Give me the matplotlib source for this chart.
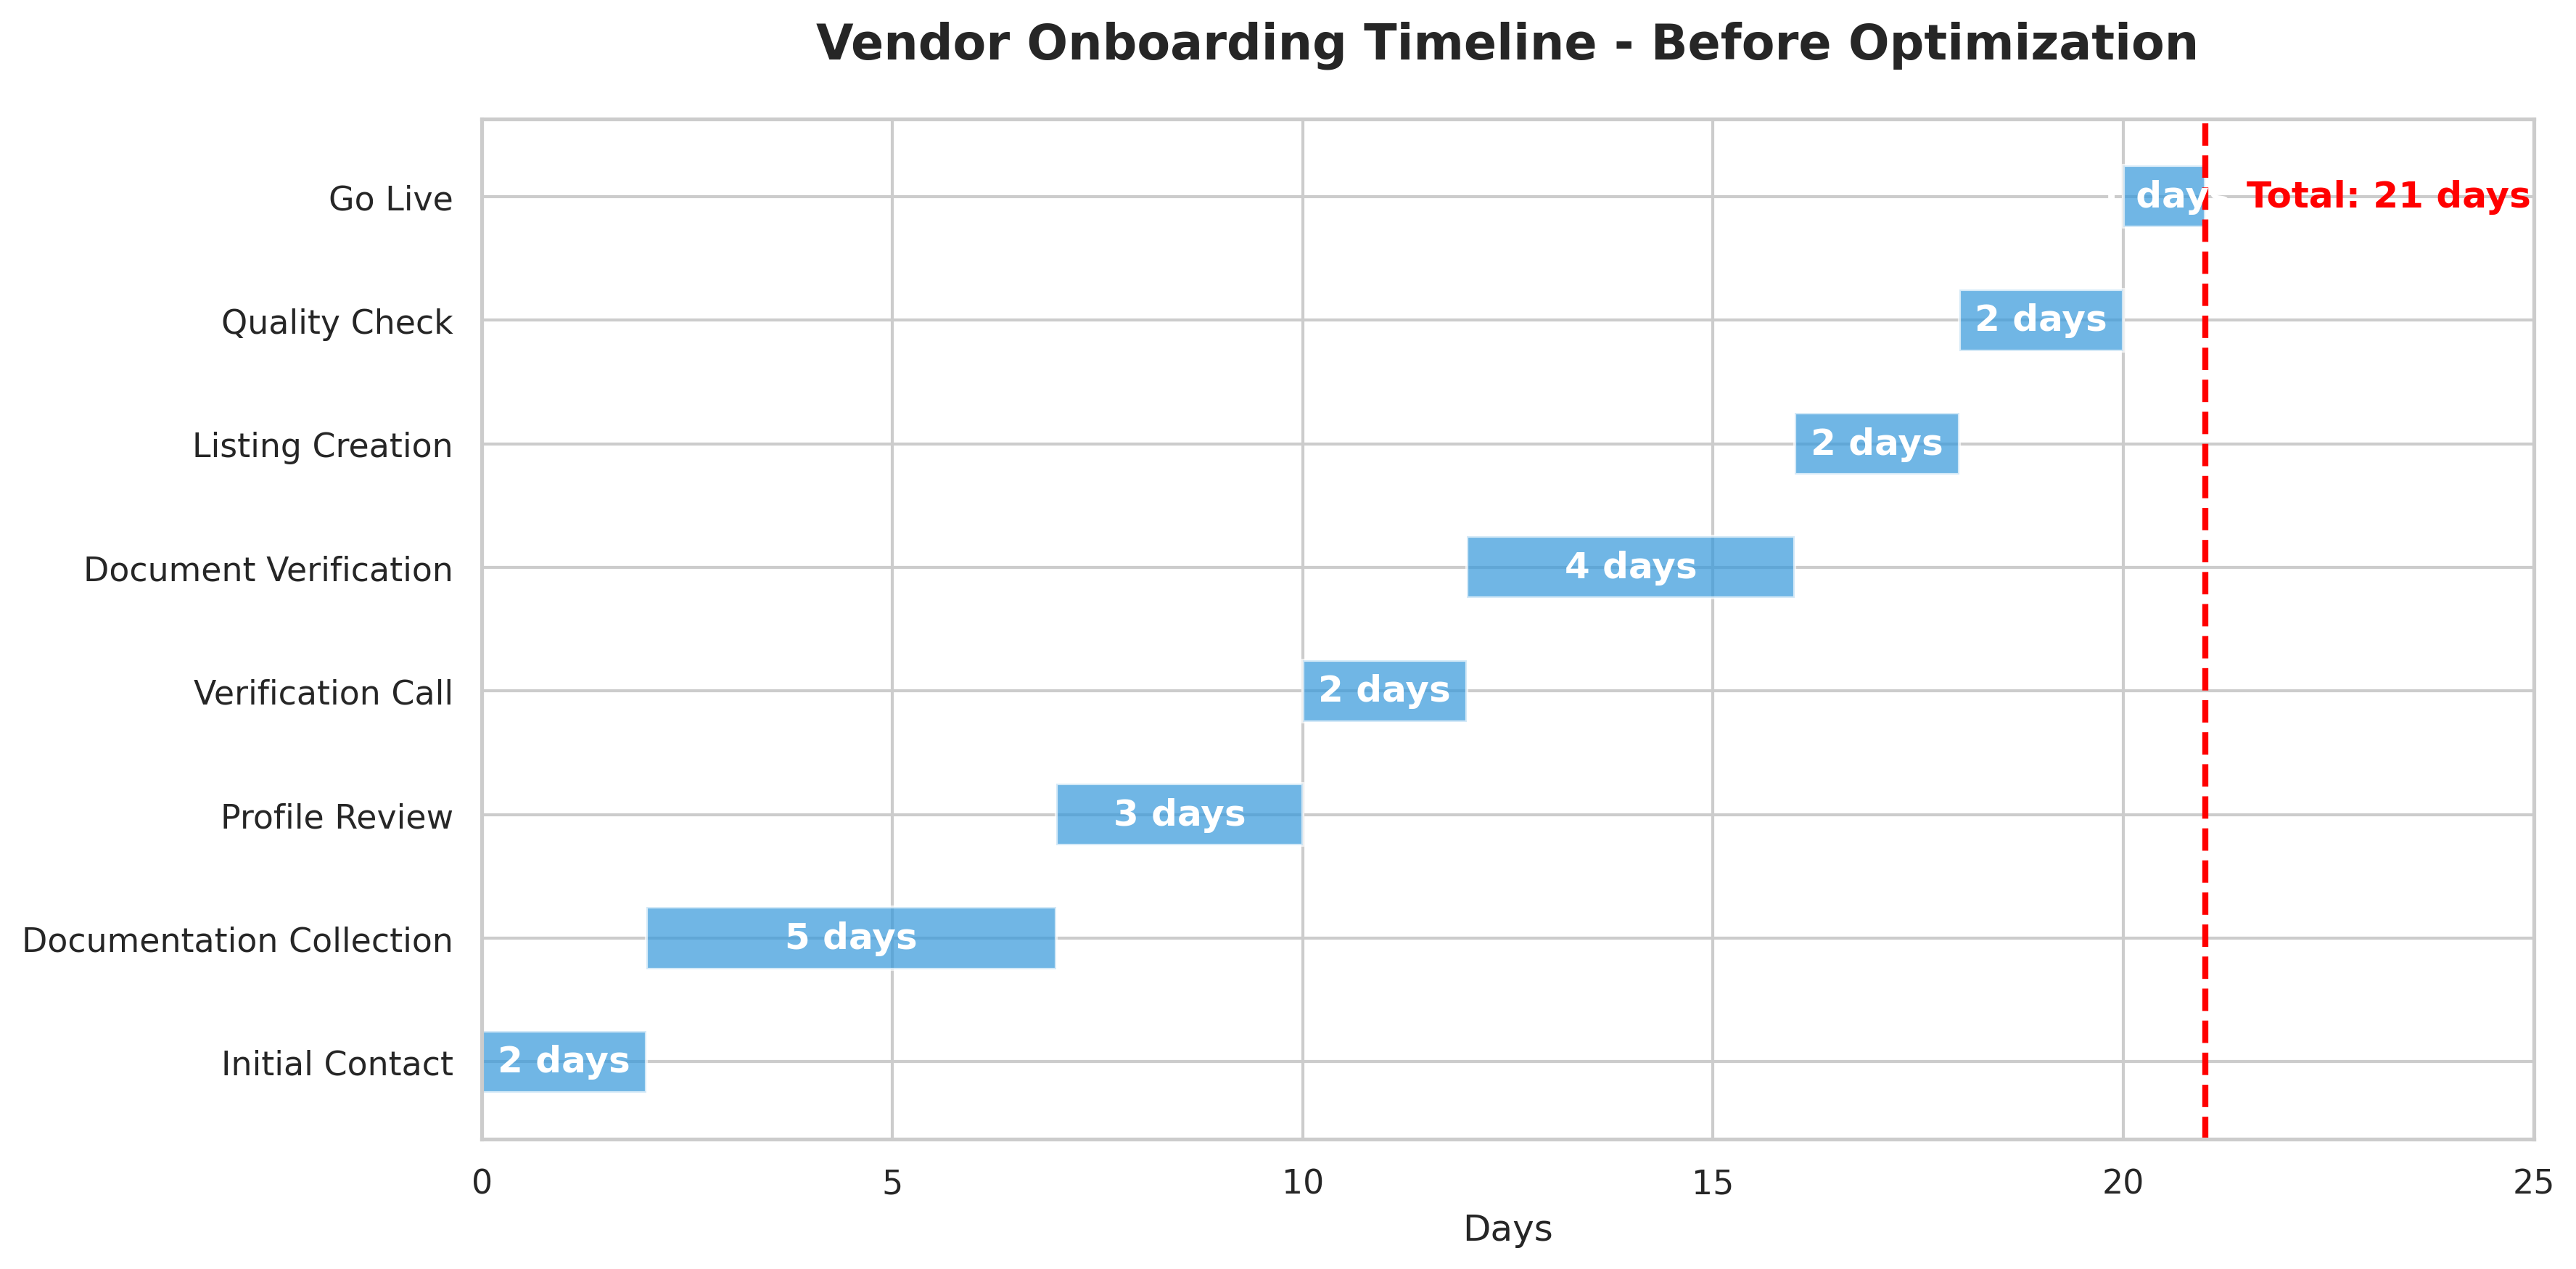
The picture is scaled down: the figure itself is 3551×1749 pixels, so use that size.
import matplotlib
matplotlib.use("Agg")
import matplotlib.pyplot as plt
import seaborn as sns

sns.set_theme(style="whitegrid")

# onboarding steps and their durations (days)
steps = ["Initial Contact", "Documentation Collection", "Profile Review",
         "Verification Call", "Document Verification", "Listing Creation",
         "Quality Check", "Go Live"]
durations = [2, 5, 3, 2, 4, 2, 2, 1]

# start day of every step = sum of the previous ones
starts = []
day = 0
for d in durations:
    starts.append(day)
    day += d
total_days = day

fig, ax = plt.subplots(figsize=(12, 6))

ax.barh(steps, durations, left=starts, height=0.5,
        color="#3498db", alpha=0.7, edgecolor="white")

# duration label in the middle of each bar
for i, (s, d) in enumerate(zip(starts, durations)):
    ax.text(s + d / 2, i, f"{d} days", ha="center", va="center",
            color="white", fontweight="bold", fontsize=12)

# total line
ax.axvline(total_days, color="red", linestyle="--", linewidth=2)
ax.text(total_days + 0.5, len(steps) - 1, f"Total: {total_days} days",
        color="red", fontweight="bold", fontsize=12, va="center")

ax.set_xlim(0, 25)
ax.set_xlabel("Days", fontsize=12)
ax.set_title("Vendor Onboarding Timeline - Before Optimization",
             fontsize=16, fontweight="bold", pad=20)

plt.tight_layout()
plt.savefig("out.png", dpi=300, bbox_inches="tight")
